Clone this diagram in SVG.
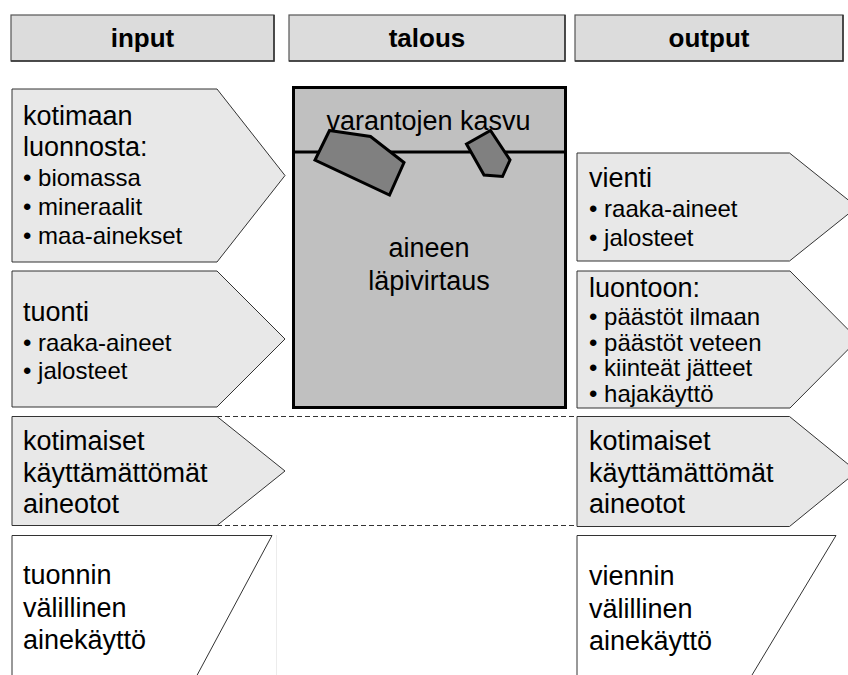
<svg xmlns="http://www.w3.org/2000/svg" width="848" height="675" viewBox="0 0 848 675">
  <style>
    text { font-family: "Liberation Sans", Arial, sans-serif; fill: #000; }
    .head { font-size: 26px; font-weight: bold; text-anchor: middle; }
    .t { font-size: 27px; }
    .b { font-size: 24px; }
    .hbox { fill: #dcdcdc; stroke: #555; stroke-width: 1.2; }
    .hshade { fill: none; stroke: #333; stroke-width: 1.5; }
    .flow { fill: #e8e8e8; stroke: #333; stroke-width: 1; }
    .open { fill: #fff; stroke: #333; stroke-width: 1; }
    .econ { fill: #c0c0c0; stroke: #000; stroke-width: 3; }
    .stock { fill: #808080; stroke: #000; stroke-width: 3; stroke-linejoin: miter; }
    .dash { stroke: #333; stroke-width: 1; stroke-dasharray: 5 3; fill: none; }
  </style>

  <!-- column headers -->
  <g id="header-input">
    <rect class="hbox" x="11" y="15" width="263" height="46"/>
    <path class="hshade" d="M11,61 H274 V15"/>
    <text class="head" x="142.5" y="47">input</text>
  </g>
  <g id="header-talous">
    <rect class="hbox" x="289" y="15" width="276" height="46"/>
    <path class="hshade" d="M289,61 H565 V15"/>
    <text class="head" x="427" y="47">talous</text>
  </g>
  <g id="header-output">
    <rect class="hbox" x="575" y="15" width="268" height="46"/>
    <path class="hshade" d="M575,61 H843 V15"/>
    <text class="head" x="709" y="47">output</text>
  </g>

  <!-- boundary lines between economy and unused extraction -->
  <g id="connectors">
    <line class="dash" x1="217" y1="416.5" x2="577" y2="416.5"/>
    <line class="dash" x1="217" y1="525.5" x2="577" y2="525.5"/>
    <line x1="276.5" y1="535" x2="276.5" y2="675" stroke="#ececec" stroke-width="1"/>
  </g>

  <!-- economy box -->
  <g id="talous">
    <rect class="econ" x="293.5" y="87.5" width="272" height="320"/>
    <line x1="293.5" y1="152" x2="565.5" y2="152" stroke="#000" stroke-width="3"/>
    <text class="t" x="428.5" y="130" text-anchor="middle">varantojen kasvu</text>
    <text class="t" x="429" y="257" text-anchor="middle">aineen</text>
    <text class="t" x="429" y="290" text-anchor="middle">läpivirtaus</text>
    <polygon class="stock" points="329.5,130.5 370.5,136.5 404,162.5 389.5,195 315,160"/>
    <polygon class="stock" points="466.5,144 490.5,130.5 510,160 502.5,176.5 484,175"/>
  </g>

  <!-- inputs -->
  <g id="kotimaan-luonnosta">
    <path class="flow" d="M12,89 H217 L285,175.5 L217,262 H12 Z"/>
    <text class="t" x="23" y="125">kotimaan</text>
    <text class="t" x="23" y="156">luonnosta:</text>
    <text class="b" x="23" y="186">• biomassa</text>
    <text class="b" x="23" y="215">• mineraalit</text>
    <text class="b" x="23" y="244">• maa-ainekset</text>
  </g>
  <g id="tuonti">
    <path class="flow" d="M12,271 H217 L285,339 L217,407 H12 Z"/>
    <text class="t" x="23" y="321">tuonti</text>
    <text class="b" x="23" y="351">• raaka-aineet</text>
    <text class="b" x="23" y="379">• jalosteet</text>
  </g>
  <g id="kotimaiset-input">
    <path class="flow" d="M12,416.5 H217 L285,471 L217,525.5 H12 Z"/>
    <text class="t" x="23" y="450">kotimaiset</text>
    <text class="t" x="23" y="482">käyttämättömät</text>
    <text class="t" x="23" y="513">aineotot</text>
  </g>
  <g id="tuonnin-valillinen">
    <path class="open" d="M12,680 V535.5 H272 L194.5,680"/>
    <text class="t" x="23" y="584">tuonnin</text>
    <text class="t" x="23" y="617">välillinen</text>
    <text class="t" x="23" y="649">ainekäyttö</text>
  </g>

  <!-- outputs -->
  <g id="vienti">
    <path class="flow" d="M577,153 H789.5 L857,207 L789.5,261 H577 Z"/>
    <text class="t" x="589" y="187">vienti</text>
    <text class="b" x="589" y="217">• raaka-aineet</text>
    <text class="b" x="589" y="246">• jalosteet</text>
  </g>
  <g id="luontoon">
    <path class="flow" d="M577,271 H790 L858,339.5 L790,408 H577 Z"/>
    <text class="t" x="589" y="297">luontoon:</text>
    <text class="b" x="589" y="325">• päästöt ilmaan</text>
    <text class="b" x="589" y="350.5">• päästöt veteen</text>
    <text class="b" x="589" y="376">• kiinteät jätteet</text>
    <text class="b" x="589" y="401.5">• hajakäyttö</text>
  </g>
  <g id="kotimaiset-output">
    <path class="flow" d="M577,416.5 H789.5 L857,471.5 L789.5,526.5 H577 Z"/>
    <text class="t" x="589" y="450">kotimaiset</text>
    <text class="t" x="589" y="482">käyttämättömät</text>
    <text class="t" x="589" y="513">aineotot</text>
  </g>
  <g id="viennin-valillinen">
    <path class="open" d="M577,680 V535.5 H836 L749,680"/>
    <text class="t" x="589" y="585">viennin</text>
    <text class="t" x="589" y="618">välillinen</text>
    <text class="t" x="589" y="650">ainekäyttö</text>
  </g>
</svg>
